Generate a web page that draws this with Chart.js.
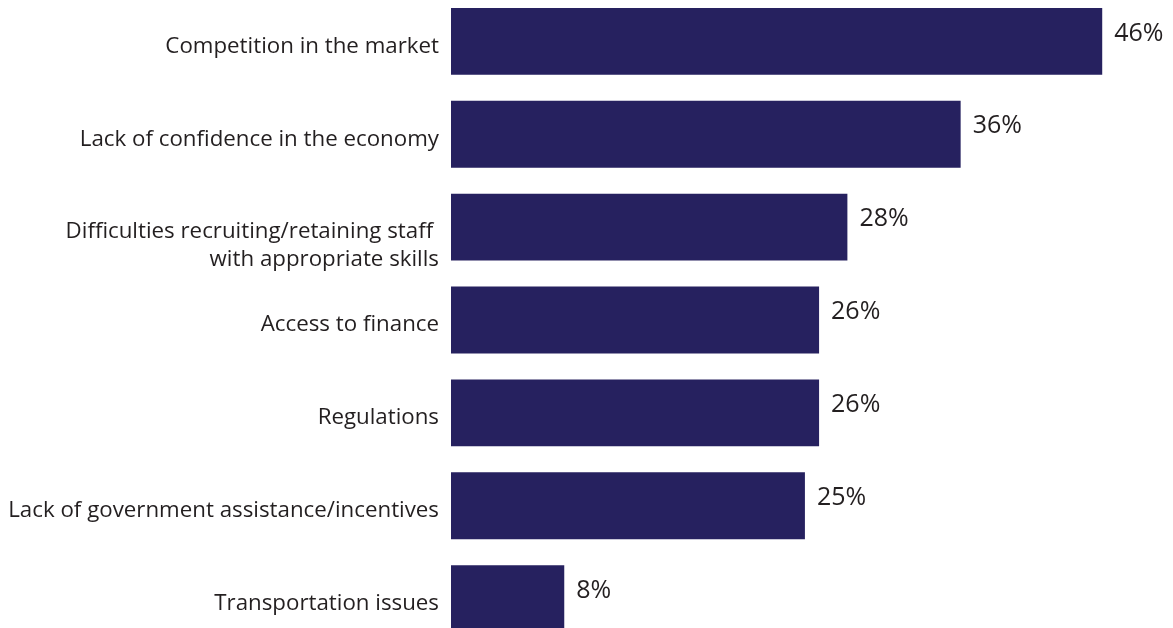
<!DOCTYPE html>
<html>
<head>
<meta charset="utf-8">
<script src="https://cdn.jsdelivr.net/npm/chart.js@4"></script>
<style>
  html, body { margin: 0; padding: 0; background: #ffffff; overflow: hidden; }
  body { width: 1173px; height: 628px; position: relative; }
  #wrap { position: absolute; left: 0; top: -5px; width: 1173px; height: 650px; }
</style>
</head>
<body>
<div id="wrap"><canvas id="chart"></canvas></div>
<script>
// Reported obstacles to business growth, share of respondents (%)
const categories = [
  ["Competition in the market"],
  ["Lack of confidence in the economy"],
  ["Difficulties recruiting/retaining staff ", "with appropriate skills"],
  ["Access to finance"],
  ["Regulations"],
  ["Lack of government assistance/incentives"],
  ["Transportation issues"]
];
const shares = [46, 36, 28, 26, 26, 25, 8];
const valueLabels = ["46%", "36%", "28%", "26%", "26%", "25%", "8%"];

const BAR_COLOR = "#26215f";
const TEXT_COLOR = "#231f20";
const FONT = "'Open Sans', 'Liberation Sans', sans-serif";

// Category names to the left of the bars, value labels to the right
const barLabels = {
  id: "barLabels",
  afterDatasetsDraw(chart) {
    const { ctx, chartArea } = chart;
    const yScale = chart.scales.y;
    const meta = chart.getDatasetMeta(0);
    ctx.save();
    ctx.fillStyle = TEXT_COLOR;
    ctx.textBaseline = "middle";

    ctx.font = "22.3px " + FONT;
    ctx.textAlign = "right";
    categories.forEach((lines, i) => {
      const yc = yScale.getPixelForValue(i);
      lines.forEach((line, k) => {
        ctx.fillText(line, chartArea.left - 12, yc + 5 + k * 28);
      });
    });

    ctx.font = "25px " + FONT;
    ctx.textAlign = "left";
    meta.data.forEach((bar, i) => {
      ctx.fillText(valueLabels[i], bar.x + 12, bar.y - 8);
    });
    ctx.restore();
  }
};

new Chart(document.getElementById("chart"), {
  type: "bar",
  data: {
    labels: categories,
    datasets: [{
      data: shares,
      backgroundColor: BAR_COLOR,
      borderWidth: 0,
      barPercentage: 0.72,
      categoryPercentage: 1.0
    }]
  },
  options: {
    indexAxis: "y",
    responsive: true,
    maintainAspectRatio: false,
    animation: false,
    layout: { padding: { left: 451, right: 0, top: 0, bottom: 0 } },
    plugins: {
      legend: { display: false },
      tooltip: { enabled: false }
    },
    scales: {
      x: { display: false, min: 0, max: 51 },
      y: { display: false, offset: true, grid: { display: false } }
    }
  },
  plugins: [barLabels]
});
</script>
</body>
</html>
